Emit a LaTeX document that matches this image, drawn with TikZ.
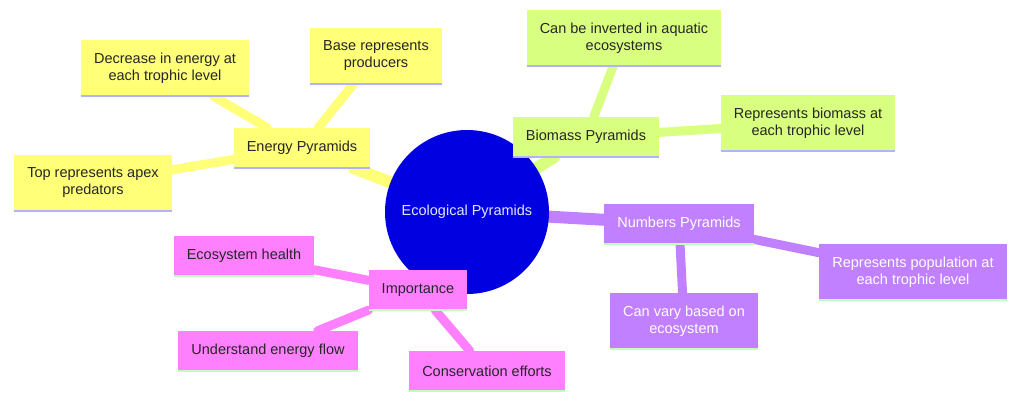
\documentclass[tikz,border=0pt]{standalone}
\usepackage{fontspec}
\setmainfont{Liberation Sans}
\usetikzlibrary{positioning,backgrounds}
\definecolor{rootblue}{HTML}{0000E0}
\definecolor{yel}{HTML}{FFFF78}
\definecolor{grn}{HTML}{D9FF80}
\definecolor{pur}{HTML}{C180FF}
\definecolor{pnk}{HTML}{FF80FF}
\tikzset{
  box/.style={draw=none, minimum height=40pt, inner xsep=13pt, align=center,
    font=\fontsize{14.5}{17}\selectfont, text=black!85},
  under/.style={append after command={
    (\tikzlastnode.south west) edge[draw=#1, line width=1.5pt] (\tikzlastnode.south east)}},
  ybox/.style={box, fill=yel, under=blue!30},
  gbox/.style={box, fill=grn, under=blue!30},
  pbox/.style={box, fill=pur, text=white, under=green!25},
  kbox/.style={box, fill=pnk, under=green!25},
  link/.style={line width=#1, line cap=round},
}
\begin{document}
\begin{tikzpicture}[x=1pt,y=-1pt]
    \useasboundingbox (0,0) rectangle (1024,400);
    % Root
    \node[circle, fill=rootblue, minimum size=164pt, text=blue!10,
      font=\fontsize{14.5}{17}\selectfont] (root) at (467,212) {Ecological Pyramids};

    % Energy branch
    \node[ybox] (energy) at (302,148) {Energy Pyramids};
    \node[ybox, minimum height=56pt] (decrease) at (165,68) {Decrease in energy at\\each trophic level};
    \node[ybox, minimum height=56pt] (base) at (376,56) {Base represents\\producers};
    \node[ybox, minimum height=56pt] (top) at (93,183) {Top represents apex\\predators};

    % Biomass branch
    \node[gbox] (biomass) at (586,137) {Biomass Pyramids};
    \node[gbox, minimum height=56pt] (inverted) at (624,38) {Can be inverted in aquatic\\ecosystems};
    \node[gbox, minimum height=56pt] (repbio) at (808,123) {Represents biomass at\\each trophic level};

    % Numbers branch
    \node[pbox] (numbers) at (679,224) {Numbers Pyramids};
    \node[pbox, minimum height=56pt] (reppop) at (913,272) {Represents population at\\each trophic level};
    \node[pbox, minimum height=56pt] (vary) at (684,321) {Can vary based on\\ecosystem};

    % Importance branch
    \node[kbox] (importance) at (418,290) {Importance};
    \node[kbox] (health) at (244,256) {Ecosystem health};
    \node[kbox] (flow) at (268,351) {Understand energy flow};
    \node[kbox] (conserv) at (487,371) {Conservation efforts};

    % Connectors
    \begin{scope}[on background layer]
    \draw[link=12pt, yel] (root) -- (energy);
    \draw[link=9pt, yel] (energy) -- (decrease) (energy) -- (base) (energy) -- (top);
    \draw[link=12pt, grn] (root) -- (biomass);
    \draw[link=9pt, grn] (biomass) -- (inverted) (biomass) -- (repbio);
    \draw[link=12pt, pur] (root) -- (numbers);
    \draw[link=9pt, pur] (numbers) -- (reppop) (numbers) -- (vary);
    \draw[link=12pt, pnk] (root) -- (importance);
    \draw[link=9pt, pnk] (importance) -- (health) (importance) -- (flow) (importance) -- (conserv);
    \end{scope}
\end{tikzpicture}
\end{document}
